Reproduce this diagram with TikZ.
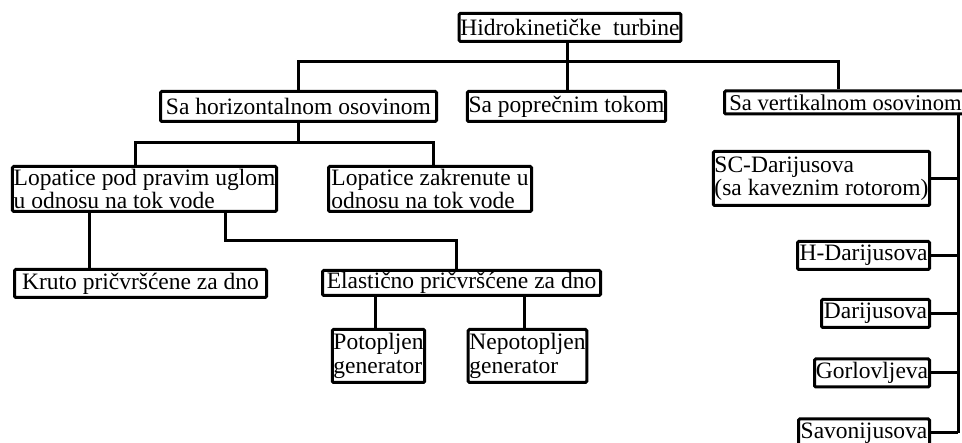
\documentclass[tikz,border=0pt]{standalone}
\usepackage{fontspec}
\setmainfont{Liberation Serif}
\begin{document}
\begin{tikzpicture}[x=1pt,y=-1pt,
  box/.style={draw,line width=3pt,rounded corners=1.2pt,inner sep=1.2pt,align=left,
    font=\fontsize{23.5}{23.5}\selectfont},
  conn/.style={line width=3pt}]
\useasboundingbox (0,0) rectangle (962,443);
% boxes
\node[box,minimum width=219,minimum height=28] (root) at (570,27.5) {Hidrokinetičke\ \ turbine};
\node[box,minimum width=276,minimum height=30] (hor) at (298.5,106.5) {Sa horizontalnom osovinom};
\node[box,minimum width=198,minimum height=30] (pop) at (566.5,106.5) {Sa poprečnim tokom};
\node[box,anchor=west,inner sep=0.3pt,minimum width=242,minimum height=23,
  font=\fontsize{22.6}{22.6}\selectfont] (ver) at (723,102.5) {Sa vertikalnom osovinom};
\node[box,minimum width=262,minimum height=45] (lpu) at (144.5,189) {Lopatice pod pravim uglom\\u odnosu na tok vode};
\node[box,minimum width=203,minimum height=45] (lz) at (430,189) {Lopatice zakrenute u\\odnosu na tok vode};
\node[box,minimum width=252,minimum height=28] (kruto) at (140.5,283.5) {Kruto pričvršćene za dno};
\node[box,minimum width=278,minimum height=25] (ela) at (461.5,283) {Elastično pričvršćene za dno};
\node[box,minimum width=92,minimum height=53] (pot) at (378.5,356) {Potopljen\\generator};
\node[box,minimum width=116,minimum height=53] (nep) at (527.5,356) {Nepotopljen\\generator};
\node[box,minimum width=216,minimum height=54] (sc) at (821.5,178.5) {SC-Darijusova\\(sa kaveznim rotorom)};
% right column
\coordinate (sp) at (958,0);
\draw[conn] (sc.east) -- (sc.east -| sp);
\foreach \n/\txt/\cx/\cy/\w in {hd/H-Darijusova/863.5/255.5/132,
    dar/Darijusova/875.5/313.5/108, gor/Gorlovljeva/872/373/115,
    sav/Savonijusova/864/433/131} {
  \node[box,minimum width=\w,minimum height=28] (\n) at (\cx,\cy) {\txt};
  \draw[conn] (\n.east) -- (\n.east -| sp);
}
\draw[conn] (ver.south -| sp) -- (sav.east -| sp);
% first level
\coordinate (b1) at (567,62);
\coordinate (b1r) at (838,62);
\draw[conn] (root.south -| b1) -- (pop.north -| b1);
\draw[conn] (hor.north) |- (b1r) -- (ver.north -| b1r);
% second level
\coordinate (b2l) at (135,143);
\coordinate (b2r) at (433,143);
\draw[conn] (hor.south) -- (hor.south |- b2l);
\draw[conn] (lpu.north -| b2l) |- (b2r) -- (lz.north -| b2r);
% third level
\coordinate (k1) at (89,0);
\coordinate (e1) at (225,241);
\coordinate (e2) at (456,241);
\draw[conn] (lpu.south -| k1) -- (kruto.north -| k1);
\draw[conn] (lpu.south -| e1) -- (e1) -- (e2) -- (ela.north -| e2);
% generators
\coordinate (p1) at (375,0);
\coordinate (n1) at (524,0);
\draw[conn] (ela.south -| p1) -- (pot.north -| p1);
\draw[conn] (ela.south -| n1) -- (nep.north -| n1);
\end{tikzpicture}
\end{document}
